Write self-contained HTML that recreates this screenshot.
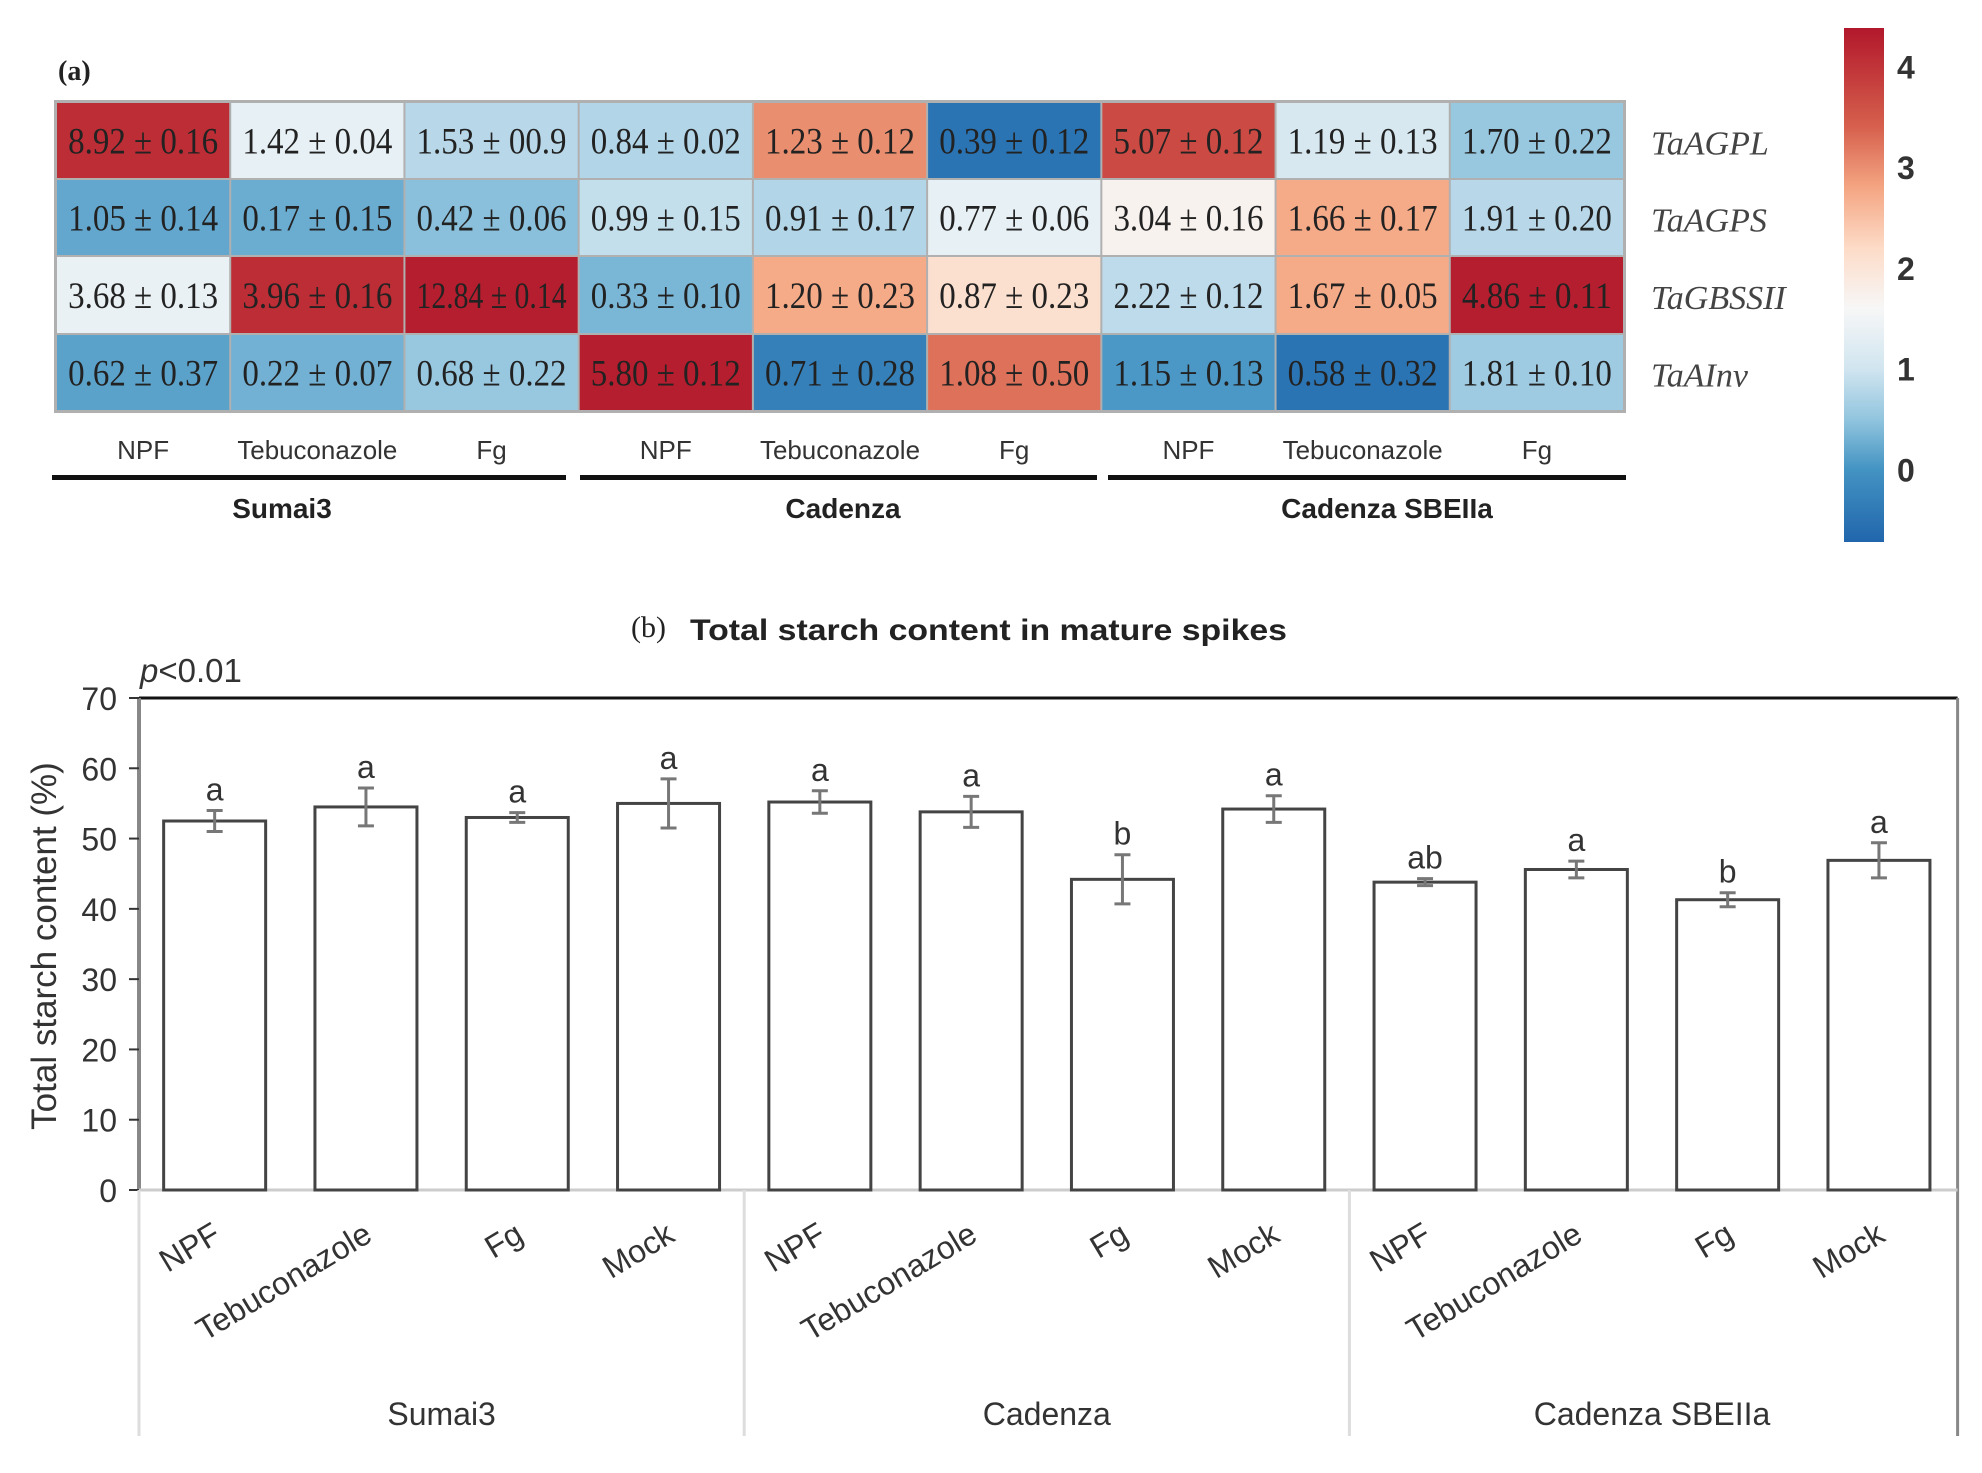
<!DOCTYPE html>
<html><head><meta charset="utf-8"><style>
body{margin:0;background:#fff}
svg{display:block}
</style></head><body>
<svg id="fig" width="1982" height="1473" viewBox="0 0 1982 1473" xmlns="http://www.w3.org/2000/svg">
<g id="heat"></g>
<g id="bars"></g>
</svg>
<script>
// ---------- Heatmap data ----------
const genes = ["TaAGPL","TaAGPS","TaGBSSII","TaAInv"];
const hmTreatments = ["NPF","Tebuconazole","Fg","NPF","Tebuconazole","Fg","NPF","Tebuconazole","Fg"];
const hmCultivars = ["Sumai3","Cadenza","Cadenza SBEIIa"];
const hmLabels = [
 ["8.92 ± 0.16","1.42 ± 0.04","1.53  ± 00.9","0.84  ± 0.02","1.23  ± 0.12","0.39  ± 0.12","5.07 ± 0.12","1.19  ± 0.13","1.70  ± 0.22"],
 ["1.05 ± 0.14","0.17  ± 0.15","0.42 ± 0.06","0.99 ± 0.15","0.91 ± 0.17","0.77 ± 0.06","3.04 ± 0.16","1.66 ± 0.17","1.91 ± 0.20"],
 ["3.68 ± 0.13","3.96 ± 0.16","12.84 ± 0.14","0.33 ± 0.10","1.20 ± 0.23","0.87 ± 0.23","2.22 ± 0.12","1.67 ± 0.05","4.86 ± 0.11"],
 ["0.62 ± 0.37","0.22 ± 0.07","0.68 ± 0.22","5.80 ± 0.12","0.71 ± 0.28","1.08 ± 0.50","1.15 ± 0.13","0.58 ± 0.32","1.81 ± 0.10"]
];
const hmScale = [
 [4.1,1.35,0.8,0.75,3.0,-0.5,3.7,1.1,0.55],
 [0.2,0.25,0.45,0.9,0.75,1.35,1.7,2.75,0.8],
 [1.4,4.1,4.3,0.35,2.75,2.1,0.85,2.75,4.3],
 [0.15,0.3,0.55,4.3,-0.3,3.25,0.05,-0.5,0.6]
];
const cbTicks = [0,1,2,3,4];

// ---------- Bar chart data ----------
const barCats = ["NPF","Tebuconazole","Fg","Mock","NPF","Tebuconazole","Fg","Mock","NPF","Tebuconazole","Fg","Mock"];
const barGroups = ["Sumai3","Cadenza","Cadenza SBEIIa"];
const barValues = [52.5,54.5,53.0,55.0,55.2,53.8,44.2,54.2,43.8,45.6,41.3,46.9];
const barErrors = [1.5,2.7,0.7,3.5,1.6,2.2,3.5,1.9,0.5,1.2,1.0,2.5];
const barLetters = ["a","a","a","a","a","a","b","a","ab","a","b","a"];
const yTicks = [0,10,20,30,40,50,60,70];

const NS="http://www.w3.org/2000/svg";
function mk(parent,tag,attrs,text){const e=document.createElementNS(NS,tag);for(const k in attrs)e.setAttribute(k,attrs[k]);if(text!==undefined)e.textContent=text;parent.appendChild(e);return e;}

// colormap RdBu
const cmapStops=[[-0.72,[33,102,172]],[0,[67,147,195]],[0.5,[146,197,222]],[1.0,[209,229,240]],[1.6,[247,247,247]],[2.2,[253,219,199]],[2.8,[244,165,130]],[3.4,[214,96,77]],[4.38,[178,24,43]]];
function cmap(v){
 if(v<=cmapStops[0][0])return rgb(cmapStops[0][1]);
 for(let i=1;i<cmapStops.length;i++){
  if(v<=cmapStops[i][0]){const a=cmapStops[i-1],b=cmapStops[i];const t=(v-a[0])/(b[0]-a[0]);
   return rgb(a[1].map((c,j)=>Math.round(c+(b[1][j]-c)*t)));}
 }
 return rgb(cmapStops[cmapStops.length-1][1]);
}
function rgb(a){return `rgb(${a[0]},${a[1]},${a[2]})`;}

// ---------- Heatmap ----------
const H=document.getElementById('heat');
const hx0=56,hy0=102,cw=(1624-56)/9,rowBounds=[102,179,256,334,411];
const panelA=mk(H,'text',{x:58,y:80,'font-family':'Liberation Serif, serif','font-size':28,'font-weight':'bold',fill:'#222'},'(a)');


mk(H,'rect',{x:hx0-2,y:hy0-2,width:cw*9+4,height:rowBounds[4]-hy0+4,fill:'#b0b0b0'});
for(let r=0;r<genes.length;r++){
 for(let c=0;c<hmTreatments.length;c++){
  const x=hx0+c*cw,y=rowBounds[r],h=rowBounds[r+1]-rowBounds[r];
  const rc=mk(H,'rect',{x:x+1,y:y+1,width:cw-2,height:h-2,fill:cmap(hmScale[r][c])});
  
  
  const tx=mk(H,'text',{x:x+cw/2,y:y+h/2+13,'text-anchor':'middle','font-family':'Liberation Serif, serif','font-size':37,fill:'#222',textLength:150,lengthAdjust:'spacingAndGlyphs'},hmLabels[r][c]);
  
  
 }
 const gl=mk(H,'text',{x:1651,y:(rowBounds[r]+rowBounds[r+1])/2+14,'font-family':'Liberation Serif, serif','font-style':'italic','font-size':34,fill:'#444'},genes[r]);
 
 
}
for(let c=0;c<hmTreatments.length;c++){
 const t=mk(H,'text',{x:hx0+c*cw+cw/2,y:459,'text-anchor':'middle','font-family':'Liberation Sans, sans-serif','font-size':26,fill:'#333'},hmTreatments[c]);
 if(hmTreatments[c]==='Tebuconazole'){t.setAttribute('textLength',160);t.setAttribute('lengthAdjust','spacingAndGlyphs');}
 
 
}
const segs=[[52,566],[580,1097],[1108,1626]];
const gcent=[282,843,1387];
for(let g=0;g<hmCultivars.length;g++){
 const ln=mk(H,'rect',{x:segs[g][0],y:475,width:segs[g][1]-segs[g][0],height:5,fill:'#111'});
 
 
 const t=mk(H,'text',{x:gcent[g],y:518,'text-anchor':'middle','font-family':'Liberation Sans, sans-serif','font-size':28,'font-weight':'bold',fill:'#222'},hmCultivars[g]);
 
 
}
// colorbar
const cbX=1844,cbW=40,cbTop=28,cbBot=542,cbMin=-0.72,cbMax=4.38;
const cbY=v=>cbBot-(v-cbMin)/(cbMax-cbMin)*(cbBot-cbTop);
const defs=mk(H,'defs',{});
const lg=mk(defs,'linearGradient',{id:'cbg',x1:0,y1:1,x2:0,y2:0});
cmapStops.forEach(s=>mk(lg,'stop',{offset:((s[0]-cbMin)/(cbMax-cbMin)),'stop-color':rgb(s[1])}));
const cb=mk(H,'rect',{x:cbX,y:cbTop,width:cbW,height:cbBot-cbTop,fill:'url(#cbg)'});


cbTicks.forEach(v=>{
 const t=mk(H,'text',{x:1897,y:cbY(v)+12,'font-family':'Liberation Sans, sans-serif','font-size':32,'font-weight':'bold',fill:'#333'},String(v));
 
 
});

// ---------- Bar chart ----------
const B=document.getElementById('bars');
const px0=139,catW=151.3,py0=1190,pyTop=698,yMax=70,barW=102;
const yS=v=>py0-v/yMax*(py0-pyTop);
const xC=i=>px0+catW*(i+0.5);
const t1=mk(B,'text',{x:631,y:637,'font-family':'Liberation Serif, serif','font-size':30,fill:'#222'},'(b)');


const t2=mk(B,'text',{x:690,y:640,'font-family':'Liberation Sans, sans-serif','font-size':30,'font-weight':'bold',fill:'#222',textLength:597,lengthAdjust:'spacingAndGlyphs'},'Total starch content in mature spikes');


const pv=mk(B,'text',{x:140,y:682,'font-family':'Liberation Sans, sans-serif','font-size':33,fill:'#333'});
mk(pv,'tspan',{'font-style':'italic'},'p');
mk(pv,'tspan',{},'<0.01');


// frame
mk(B,'line',{x1:px0,y1:pyTop,x2:px0+catW*12+3,y2:pyTop,stroke:'#111','stroke-width':3});
mk(B,'line',{x1:px0+catW*12+3,y1:pyTop,x2:px0+catW*12+3,y2:1436,stroke:'#888','stroke-width':3});
const ya=mk(B,'line',{x1:px0,y1:pyTop,x2:px0,y2:py0,stroke:'#888','stroke-width':4});


mk(B,'line',{x1:px0,y1:py0,x2:px0+catW*12+3,y2:py0,stroke:'#ccc','stroke-width':3});
yTicks.forEach(v=>{
 mk(B,'line',{x1:px0-10,y1:yS(v),x2:px0,y2:yS(v),stroke:'#333','stroke-width':2});
 const t=mk(B,'text',{x:px0-22,y:yS(v)+12,'text-anchor':'end','font-family':'Liberation Sans, sans-serif','font-size':32,fill:'#333'},String(v));
 
 
});
const yt=mk(B,'text',{x:0,y:0,transform:'translate(56,946) rotate(-90)','text-anchor':'middle','font-family':'Liberation Sans, sans-serif','font-size':35,fill:'#333'},'Total starch content (%)');


barValues.forEach((v,i)=>{
 const cx=xC(i);
 const r=mk(B,'rect',{x:cx-barW/2,y:yS(v),width:barW,height:py0-yS(v),fill:'#fff',stroke:'#444','stroke-width':3});
 
 
 const e=barErrors[i];
 const eg=mk(B,'g',{stroke:'#777','stroke-width':3});
 
 
 mk(eg,'line',{x1:cx,y1:yS(v+e),x2:cx,y2:yS(v-e)});
 mk(eg,'line',{x1:cx-8,y1:yS(v+e),x2:cx+8,y2:yS(v+e)});
 mk(eg,'line',{x1:cx-8,y1:yS(v-e),x2:cx+8,y2:yS(v-e)});
 const l=mk(B,'text',{x:cx,y:yS(v+e)-10,'text-anchor':'middle','font-family':'Liberation Sans, sans-serif','font-size':32,fill:'#333'},barLetters[i]);
 
 
 const xl=mk(B,'text',{x:0,y:0,transform:`translate(${cx+8},1240) rotate(-31)`,'text-anchor':'end','font-family':'Liberation Sans, sans-serif','font-size':32,fill:'#333'},barCats[i]);
 
 
});
for(let g=0;g<=3;g++){
 if(g<3) mk(B,'line',{x1:px0+catW*4*g,y1:py0,x2:px0+catW*4*g,y2:1436,stroke:'#ddd','stroke-width':3});
}
barGroups.forEach((n,g)=>{
 const t=mk(B,'text',{x:px0+catW*(4*g+2),y:1425,'text-anchor':'middle','font-family':'Liberation Sans, sans-serif','font-size':32,fill:'#333'},n);
 
 
});
</script>
</body></html>
